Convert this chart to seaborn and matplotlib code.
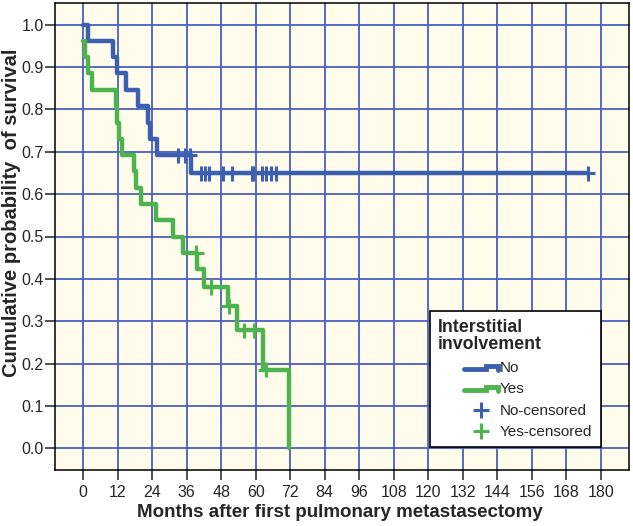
import numpy as np
import pandas as pd
import seaborn as sns
import matplotlib.pyplot as plt
from matplotlib.lines import Line2D
from matplotlib.legend_handler import HandlerBase

# Kaplan-Meier step data (months, survival)
no_times = [0, 1.7, 10.4, 11.9, 15.0, 19.2, 22.6, 23.2, 25.5, 37.4, 175.5]
no_surv = [1.0, 0.962, 0.923, 0.885, 0.846, 0.808, 0.769, 0.731, 0.692, 0.649, 0.649]
no_censored = [33.0, 35.5, 37.0, 40.9, 42.3, 43.8, 48.7, 51.7, 58.6, 59.2,
               62.3, 63.7, 65.2, 66.9, 175.5]

yes_times = [0, 0.5, 1.8, 3.2, 11.5, 11.9, 12.6, 13.5, 17.6, 18.5, 20.0, 25.3,
             31.1, 34.8, 39.7, 42.1, 50.2, 53.4, 62.7, 71.6]
yes_surv = [0.962, 0.923, 0.885, 0.846, 0.808, 0.769, 0.731, 0.692, 0.654, 0.615,
            0.577, 0.538, 0.500, 0.462, 0.423, 0.381, 0.335, 0.279, 0.186, 0.0]
yes_censored = [39.2, 44.4, 50.7, 55.8, 59.4, 63.4]

groups = ['No', 'Yes']
colors = {'No': '#3d5fb0', 'Yes': '#4cb34e'}
grid_color = '#4a5fc2'
bg_color = '#fffceb'

x_ticks = list(range(0, 181, 12))
y_ticks = [round(v * 0.1, 1) for v in range(11)]


def censor_levels(times, surv, cens):
    idx = np.searchsorted(times, cens, side='right') - 1
    return [surv[i] for i in idx]


df_steps = pd.concat([
    pd.DataFrame({'month': no_times, 'surv': no_surv, 'group': 'No'}),
    pd.DataFrame({'month': yes_times, 'surv': yes_surv, 'group': 'Yes'}),
])
df_cens = pd.concat([
    pd.DataFrame({'month': no_censored,
                  'surv': censor_levels(no_times, no_surv, no_censored), 'group': 'No'}),
    pd.DataFrame({'month': yes_censored,
                  'surv': censor_levels(yes_times, yes_surv, yes_censored), 'group': 'Yes'}),
])

sns.set_style('ticks')
plt.rcParams['font.family'] = ['Liberation Sans', 'DejaVu Sans']

fig = plt.figure(figsize=(6.33, 5.26), dpi=100)
ax = fig.add_axes([55 / 633, 56 / 526, 574 / 633, 467 / 526])
ax.set_facecolor(bg_color)

sns.lineplot(data=df_steps, x='month', y='surv', hue='group', palette=colors,
             drawstyle='steps-post', estimator=None, sort=False, linewidth=3.2,
             legend=False, ax=ax, zorder=3)
sns.scatterplot(data=df_cens, x='month', y='surv', hue='group', palette=colors,
                marker='+', s=120, linewidth=2.2, legend=False, ax=ax, zorder=4)

ax.set_xlim(-9.8, 189.8)
ax.set_ylim(-0.051, 1.051)
ax.set_xticks(x_ticks)
ax.set_yticks(y_ticks)
ax.set_yticklabels([f'{v:.1f}' for v in y_ticks])
ax.grid(True, color=grid_color, linewidth=1.3)
ax.set_axisbelow(True)
for s in ax.spines.values():
    s.set_linewidth(1.1)
    s.set_color('black')
ax.tick_params(axis='both', labelsize=11.5, length=7, width=1.1, color='#222222')
ax.tick_params(axis='y', pad=1)
ax.tick_params(axis='x', pad=4)

ax.set_xlabel('Months after first pulmonary metastasectomy', fontsize=13.5,
              fontweight='bold')
ax.set_ylabel('Cumulative probability  of survival', fontsize=14.5,
              fontweight='bold')
ax.xaxis.set_label_coords(0.497, -0.072)
ax.yaxis.set_label_coords(-0.059, 0.55)


class KMHandler(HandlerBase):
    def __init__(self, kind):
        super().__init__()
        self.kind = kind

    def create_artists(self, legend, orig_handle, xdescent, ydescent,
                       width, height, fontsize, trans):
        x0, w, h = -xdescent, width, height
        c = orig_handle.get_color()
        if self.kind == 'step':
            xs = [x0 + 0.44 * w, x0 + 0.8 * w, x0 + 0.8 * w, x0 + w, x0 + w]
            ys = [0.3 * h, 0.3 * h, 0.62 * h, 0.62 * h, 0.2 * h]
            art = Line2D(xs, ys, color=c, linewidth=3.5, solid_joinstyle='miter')
        else:
            art = Line2D([x0 + 0.72 * w], [0.4 * h], color=c, marker='+',
                         linestyle='none', markersize=12, markeredgewidth=2.2)
        art.set_transform(trans)
        return [art]


h_no = Line2D([], [], color=colors['No'])
h_yes = Line2D([], [], color=colors['Yes'])
h_no_c = Line2D([], [], color=colors['No'])
h_yes_c = Line2D([], [], color=colors['Yes'])
leg = ax.legend([h_no, h_yes, h_no_c, h_yes_c],
                ['No', 'Yes', 'No-censored', 'Yes-censored'],
                handler_map={h_no: KMHandler('step'), h_yes: KMHandler('step'),
                             h_no_c: KMHandler('plus'), h_yes_c: KMHandler('plus')},
                title='Interstitial\ninvolvement', loc='lower right',
                bbox_to_anchor=(0.951, 0.049), borderaxespad=0, fontsize=11,
                fancybox=False, framealpha=1, edgecolor='black', handlelength=3.9,
                handletextpad=0.15, labelspacing=0.47, borderpad=0.55,
                alignment='left', title_fontproperties={'weight': 'bold', 'size': 12.8})
leg.get_title().set_linespacing(0.95)
leg.get_frame().set_linewidth(1.2)
leg.set_zorder(5)
leg._legend_box.sep = 6

fig.savefig('out.png', dpi=100)
